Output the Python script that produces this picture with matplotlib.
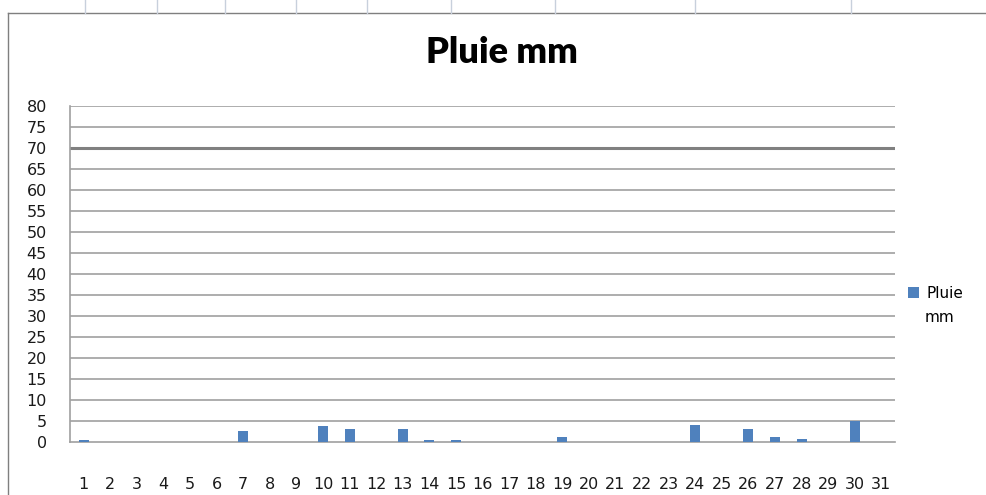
import matplotlib.pyplot as plt
from matplotlib.lines import Line2D

jours = [str(j) for j in range(1, 32)]
pluie = [0.5, 0, 0, 0, 0, 0, 2.7, 0, 0, 3.8, 3.0, 0, 3.0, 0.5, 0.5, 0,
         0, 0, 1.3, 0, 0, 0, 0, 4.1, 0, 3.0, 1.3, 0.8, 0, 5.0, 0]
yticks = list(range(0, 81, 5))

bleu = '#4f81bd'
gris = '#a0a0a0'

fig = plt.figure(figsize=(9.87, 4.95), dpi=100)
ax = fig.add_axes([0.0714, 0.107, 0.835, 0.679])

ax.bar(jours, pluie, width=0.38, color=bleu, zorder=3, label='Pluie')
ax.set_xlim(-0.5, 30.5)
ax.set_ylim(0, 80)
ax.set_yticks(yticks)

# quadrillage
for y in yticks[1:]:
    if y == 70:
        ax.axhline(y, color='#808080', lw=2.2, zorder=1)
    else:
        ax.axhline(y, color=gris, lw=1.2, zorder=1)

for s in ['top', 'right']:
    ax.spines[s].set_visible(False)
ax.spines['left'].set_color(gris)
ax.spines['bottom'].set_color(gris)
ax.spines['left'].set_linewidth(1.2)
ax.spines['bottom'].set_linewidth(1.2)

ax.tick_params(axis='both', length=0, labelsize=11.5, labelcolor='#1a1a1a')
ax.tick_params(axis='y', pad=17)
ax.tick_params(axis='x', pad=25)

fig.text(0.509, 0.893, 'Pluie mm', ha='center', va='center',
         fontsize=26, fontweight='heavy', family='Lato')

# legende : "Pluie" avec le carre, "mm" sur la ligne suivante
leg = ax.legend(loc='center left', bbox_to_anchor=(1.0, 0.442), frameon=False,
                fontsize=11, handlelength=0.7, handleheight=0.7, handletextpad=0.5)
fig.text(0.937, 0.358, 'mm', ha='left', va='center', fontsize=11)

# cadre de la feuille
fig.add_artist(Line2D([0.008, 1], [0.974, 0.974], transform=fig.transFigure, color='#7f7f7f', lw=1))
fig.add_artist(Line2D([0.008, 0.008], [0, 0.974], transform=fig.transFigure, color='#7f7f7f', lw=1))
for x in [0.086, 0.159, 0.228, 0.3, 0.372, 0.457, 0.562, 0.704, 0.862]:
    fig.add_artist(Line2D([x, x], [0.974, 1], transform=fig.transFigure, color='#c8d0dc', lw=1))

fig.savefig('out.png', dpi=100)
